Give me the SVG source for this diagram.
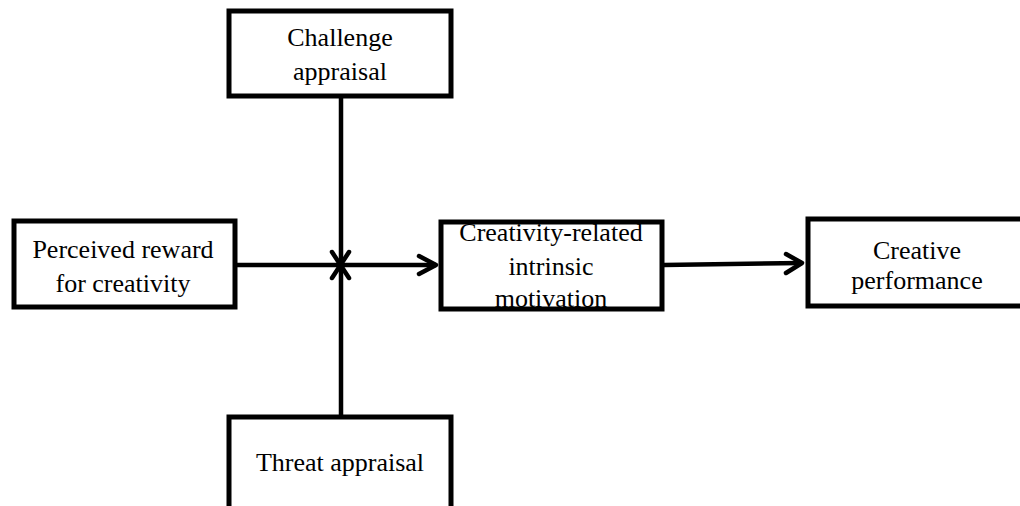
<svg xmlns="http://www.w3.org/2000/svg" width="1020" height="506" viewBox="0 0 1020 506">
<style>
.box{fill:#fff;stroke:#000;stroke-width:5;stroke-linejoin:miter}
.t{font-family:"Liberation Serif","Times New Roman",serif;font-size:26px;fill:#000;text-anchor:middle}
.ln{stroke:#000;stroke-width:4.5;fill:none}
.hd{stroke:#000;stroke-width:4.5;fill:none;stroke-linecap:round;stroke-linejoin:round}
</style>
<rect width="1020" height="506" fill="#fff"/>
<g id="connectors">
<line class="ln" x1="341" y1="96" x2="341" y2="417"/>
<line class="ln" x1="237" y1="265" x2="436" y2="265"/>
<polyline class="hd" points="419,256 436,265 419,274"/>
<line class="ln" x1="664" y1="265" x2="802" y2="263"/>
<polyline class="hd" points="786,254 802,263 786,273"/>
<line class="hd" x1="332" y1="252" x2="349" y2="278"/>
<line class="hd" x1="349" y1="252" x2="332" y2="278"/>
</g>
<g id="challenge">
<rect class="box" x="229" y="11" width="222" height="85"/>
<text class="t" x="340" y="46">Challenge</text>
<text class="t" x="340" y="80">appraisal</text>
</g>
<g id="perceived">
<rect class="box" x="14" y="221" width="221" height="86"/>
<text class="t" x="123" y="258">Perceived reward</text>
<text class="t" x="123" y="292">for creativity</text>
</g>
<g id="motivation">
<rect class="box" x="441" y="222" width="221" height="87"/>
<text class="t" x="551" y="241">Creativity-related</text>
<text class="t" x="551" y="275">intrinsic</text>
<text class="t" x="551" y="307">motivation</text>
</g>
<g id="performance">
<rect class="box" x="808" y="219" width="216" height="87"/>
<text class="t" x="917" y="259">Creative</text>
<text class="t" x="917" y="289">performance</text>
</g>
<g id="threat">
<rect class="box" x="229" y="417" width="222" height="100"/>
<text class="t" x="340" y="471">Threat appraisal</text>
</g>
</svg>
